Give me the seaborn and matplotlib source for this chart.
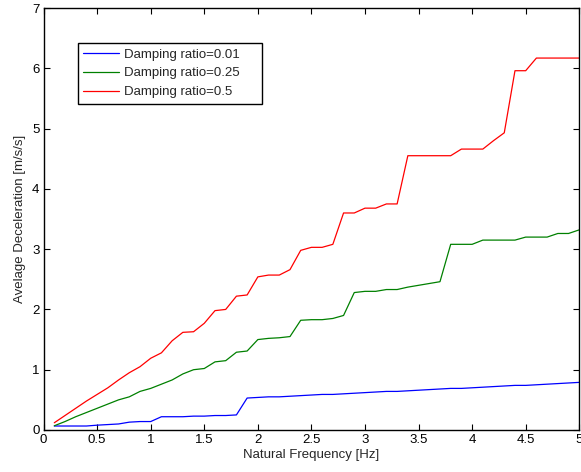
import numpy as np
import pandas as pd
import matplotlib
matplotlib.use("Agg")
import matplotlib.pyplot as plt
import seaborn as sns

# Natural frequency grid [Hz]
freq = [round(0.1 * i, 1) for i in range(1, 51)]

# Average deceleration [m/s/s] per damping ratio
decel_001 = [0.066, 0.066, 0.066, 0.066, 0.08, 0.09, 0.10, 0.13, 0.14, 0.14,
             0.22, 0.22, 0.22, 0.23, 0.23, 0.24, 0.24, 0.25, 0.53, 0.54,
             0.55, 0.55, 0.56, 0.57, 0.58, 0.59, 0.59, 0.60, 0.61, 0.62,
             0.63, 0.64, 0.64, 0.65, 0.66, 0.67, 0.68, 0.69, 0.69, 0.70,
             0.71, 0.72, 0.73, 0.74, 0.74, 0.75, 0.76, 0.77, 0.78, 0.79]
decel_025 = [0.07, 0.14, 0.22, 0.29, 0.36, 0.43, 0.50, 0.55, 0.64, 0.69,
             0.76, 0.83, 0.93, 1.00, 1.02, 1.13, 1.15, 1.29, 1.31, 1.50,
             1.52, 1.53, 1.55, 1.82, 1.83, 1.83, 1.85, 1.90, 2.28, 2.30,
             2.30, 2.33, 2.33, 2.37, 2.40, 2.43, 2.46, 3.08, 3.08, 3.08,
             3.15, 3.15, 3.15, 3.15, 3.20, 3.20, 3.20, 3.26, 3.26, 3.32]
decel_05 = [0.12, 0.24, 0.36, 0.48, 0.59, 0.70, 0.83, 0.95, 1.05, 1.19,
            1.28, 1.48, 1.62, 1.63, 1.77, 1.98, 2.00, 2.22, 2.24, 2.54,
            2.57, 2.57, 2.66, 2.98, 3.03, 3.03, 3.08, 3.60, 3.60, 3.68,
            3.68, 3.75, 3.75, 4.55, 4.55, 4.55, 4.55, 4.55, 4.66, 4.66,
            4.66, 4.80, 4.93, 5.96, 5.96, 6.17, 6.17, 6.17, 6.17, 6.17]

labels = ["Damping ratio=0.01", "Damping ratio=0.25", "Damping ratio=0.5"]
colors = ["#0000ff", "#008000", "#ff0000"]

df = pd.concat([
    pd.DataFrame({"freq": freq, "decel": vals, "series": lab})
    for vals, lab in zip([decel_001, decel_025, decel_05], labels)
], ignore_index=True)

sns.set_style("ticks")
plt.rcParams["font.family"] = ["Liberation Sans", "DejaVu Sans"]
plt.rcParams["font.size"] = 9.5

fig = plt.figure(figsize=(5.81, 4.72), dpi=100)
ax = fig.add_axes([0.075, 0.089, 0.922, 0.894])

sns.lineplot(data=df, x="freq", y="decel", hue="series", hue_order=labels,
             palette=colors, linewidth=0.9, ax=ax)

ax.set_xlim(0, 5)
ax.set_ylim(0, 7)
ax.set_xticks(np.arange(0, 5.01, 0.5))
ax.set_xticklabels(["0", "0.5", "1", "1.5", "2", "2.5", "3", "3.5", "4", "4.5", "5"])
ax.set_yticks(range(0, 8))
ax.set_xlabel("Natural Frequency [Hz]", fontsize=9.5, labelpad=2)
ax.set_ylabel("Avelage Deceleration [m/s/s]", fontsize=9.5, labelpad=4)

for s in ax.spines.values():
    s.set_visible(True)
    s.set_linewidth(1.0)
    s.set_color("black")
ax.tick_params(direction="in", length=4, width=0.8, top=True, right=True,
               labelsize=9.5, pad=3, colors="black")

leg = ax.legend(loc="upper left", bbox_to_anchor=(0.064, 0.772, 0.343, 0.145),
                mode="expand", fancybox=False,
                frameon=True, edgecolor="black", framealpha=1,
                handlelength=2.7, handletextpad=0.4, labelspacing=0.5,
                borderpad=0.4, borderaxespad=0, fontsize=9.5, title=None)
leg.get_frame().set_linewidth(1.0)

fig.savefig("out.png", dpi=100)
